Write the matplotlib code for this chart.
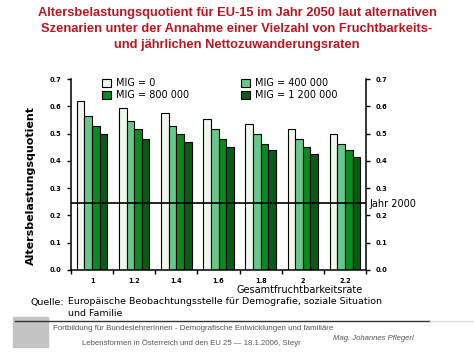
import matplotlib
matplotlib.use("Agg")
import matplotlib.pyplot as plt
from matplotlib.patches import Rectangle
from matplotlib.lines import Line2D
import numpy as np

categories = ["1", "1.2", "1.4", "1.6", "1.8", "2", "2.2"]
series_names = ["MIG = 0", "MIG = 400 000", "MIG = 800 000", "MIG = 1 200 000"]
mig_0 = [0.62, 0.592, 0.574, 0.554, 0.536, 0.517, 0.497]
mig_400k = [0.565, 0.547, 0.528, 0.517, 0.497, 0.479, 0.463]
mig_800k = [0.528, 0.517, 0.497, 0.481, 0.463, 0.451, 0.440]
mig_1200k = [0.497, 0.481, 0.470, 0.452, 0.441, 0.425, 0.414]
year_2000 = 0.244
y_ticks = [0.0, 0.1, 0.2, 0.3, 0.4, 0.5, 0.6, 0.7]

colors = ["#EEF6EE", "#66C98A", "#0B8A1E", "#0A5C14"]
W, H = 474, 355
fig = plt.figure(figsize=(W / 100, H / 100), dpi=100)
plt.rcParams['font.family'] = ['DejaVu Sans']

def fx(px):
    return px / W

def fy(py):
    return 1 - py / H

ax = fig.add_axes([fx(71), fy(270), fx(366) - fx(71), fy(79) - fy(270)])
x = np.arange(len(categories))
bw = 0.18
series = [mig_0, mig_400k, mig_800k, mig_1200k]
bars = []
for i, (vals, c, name) in enumerate(zip(series, colors, series_names)):
    b = ax.bar(x + (i - 1.5) * bw, vals, bw, color=c, edgecolor="black",
               linewidth=0.8, label=name, zorder=2)
    bars.append(b)

ax.axhline(year_2000, color="black", lw=1.2, zorder=3)
ax.set_xlim(-0.5, len(categories) - 0.5)
ax.set_ylim(0, 0.7)

ax.spines['top'].set_visible(False)
ax.spines['right'].set_visible(True)
for s in ['left', 'right', 'bottom']:
    ax.spines[s].set_linewidth(1.1)

ax.set_yticks(y_ticks)
ax.set_yticklabels([f"{v:.1f}" for v in y_ticks], fontsize=4.8, fontweight='bold')
ax.tick_params(axis='y', which='both', left=True, right=True, labelleft=True,
               labelright=True, direction='out', length=3, width=1.0, pad=4)
ax.set_xticks(x)
ax.set_xticklabels(categories, fontsize=4.8, fontweight='bold')
ax.set_xticks(np.arange(len(categories) + 1) - 0.5, minor=True)
ax.tick_params(axis='x', which='major', length=0, pad=6)
ax.tick_params(axis='x', which='minor', length=3, width=1.0, direction='out')

# legend (column-major: col1 = MIG 0, 800 000; col2 = 400 000, 1 200 000)
leg_order = [0, 2, 1, 3]
leg = ax.legend([bars[i] for i in leg_order], [series_names[i] for i in leg_order],
                ncol=2, frameon=False, fontsize=7, loc='upper left',
                bbox_to_anchor=(fx(98 - 71) / (fx(366) - fx(71)), 1.025),
                handlelength=0.9, handleheight=0.9, handletextpad=0.5,
                columnspacing=5.4, labelspacing=0.2, borderaxespad=0)

ax.set_ylabel("Altersbelastungsquotient", fontsize=8, fontweight='bold')
ax.yaxis.set_label_coords(-0.12, 0.44)

fig.text(fx(369), fy(204), "Jahr 2000", fontsize=7, va='center', ha='left')
fig.text(fx(363), fy(290), "Gesamtfruchtbarkeitsrate", fontsize=7, va='center', ha='right')

title = ("Altersbelastungsquotient für EU-15 im Jahr 2050 laut alternativen\n"
         "Szenarien unter der Annahme einer Vielzahl von Fruchtbarkeits-\n"
         "und jährlichen Nettozuwanderungsraten")
fig.text(fx(237), fy(7), title, fontsize=9.3, fontweight='bold', color="#C0141E",
         ha='center', va='top', family='Liberation Sans', linespacing=1.42)

fig.text(fx(30), fy(302), "Quelle:", fontsize=6.8, va='center', ha='left')
fig.text(fx(68), fy(302), "Europäische Beobachtungsstelle für Demografie, soziale Situation",
         fontsize=6.8, va='center', ha='left')
fig.text(fx(68), fy(313), "und Familie", fontsize=6.8, va='center', ha='left')

fig.patches.append(Rectangle((fx(13), fy(347)), fx(48) - fx(13), fy(317) - fy(347),
                             transform=fig.transFigure, color="#C4C4C4", zorder=1))
fig.lines.append(Line2D([fx(15), fx(430)], [fy(321), fy(321)], transform=fig.transFigure,
                        color="#333333", lw=1.0))
fig.lines.append(Line2D([fx(430), fx(474)], [fy(321), fy(321)], transform=fig.transFigure,
                        color="#DDDDDD", lw=0.8))
fig.text(fx(53), fy(329), "Fortbildung für BundeslehrerInnen - Demografische Entwicklungen und familiäre",
         fontsize=5.7, color="#555555", va='center', ha='left', family='Liberation Sans')
fig.text(fx(82), fy(343), "Lebensformen in Österreich und den EU 25 \u2014 18.1.2006, Steyr",
         fontsize=5.6, color="#555555", va='center', ha='left', family='Liberation Sans')
fig.text(fx(333), fy(338), "Mag. Johannes Pflegerl", fontsize=5.6, color="#555555",
         va='center', ha='left', style='italic', family='Liberation Sans')

fig.savefig("out.png", dpi=100)
